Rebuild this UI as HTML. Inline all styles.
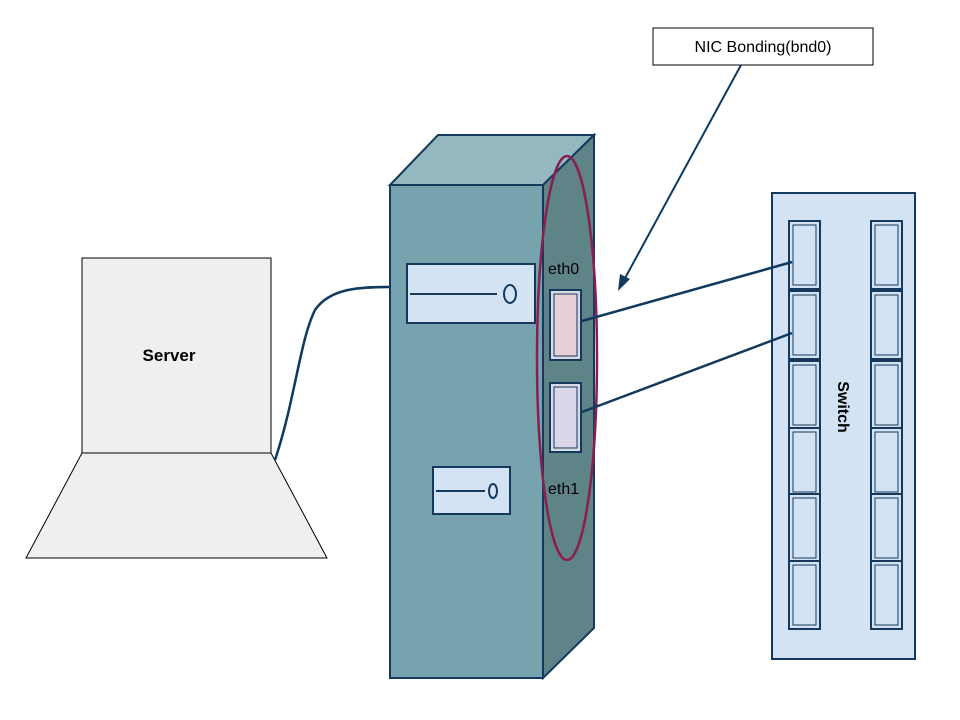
<!DOCTYPE html>
<html><head><style>body{margin:0;background:#fff}svg{display:block}</style></head><body>
<svg width="960" height="720" xmlns="http://www.w3.org/2000/svg" font-family="Liberation Sans, sans-serif">
<rect x="82" y="258" width="189" height="195" fill="#efefef" stroke="#000" stroke-width="1"/>
<polygon points="82,453 271,453 327,558 26,558" fill="#efefef" stroke="#000"/>
<text x="169" y="361" font-size="17" font-weight="bold" text-anchor="middle">Server</text>
<path d="M275,460 C295,400 300,340 315,310 C330,288 360,287 390,287" fill="none" stroke="#0f3a5e" stroke-width="2.5"/>
<polygon points="390,185 438,135 594,135 543,185" fill="#94b8c0" stroke="#15395c" stroke-width="2"/>
<polygon points="543,185 594,135 594,628 543,678" fill="#5e8488" stroke="#15395c" stroke-width="2"/>
<rect x="390" y="185" width="153" height="493" fill="#77a3ae" stroke="#15395c" stroke-width="2"/>
<rect x="407" y="264" width="128" height="59" fill="#d3e3f3" stroke="#15395c" stroke-width="2"/>
<line x1="410" y1="294" x2="497" y2="294" stroke="#15395c" stroke-width="2"/>
<ellipse cx="510" cy="294" rx="6" ry="9" fill="none" stroke="#15395c" stroke-width="2"/>
<rect x="433" y="467" width="77" height="47" fill="#d3e3f3" stroke="#15395c" stroke-width="2"/>
<line x1="436" y1="491" x2="485" y2="491" stroke="#15395c" stroke-width="2"/>
<ellipse cx="493" cy="491" rx="4" ry="7" fill="none" stroke="#15395c" stroke-width="2"/>
<rect x="550" y="290" width="31" height="70" fill="#d6dbe5" stroke="#15395c" stroke-width="2"/>
<rect x="554" y="294" width="23" height="62" fill="#e8cfd8" stroke="#15395c" stroke-width="1"/>
<rect x="550" y="383" width="31" height="69" fill="#d6dbe5" stroke="#15395c" stroke-width="2"/>
<rect x="554" y="387" width="23" height="61" fill="#dcd6ea" stroke="#15395c" stroke-width="1"/>
<text x="548" y="274" font-size="16">eth0</text>
<text x="548" y="494" font-size="16">eth1</text>
<ellipse cx="567" cy="358" rx="30" ry="202" fill="none" stroke="#8a1f4e" stroke-width="2.5"/>
<rect x="772" y="193" width="143" height="466" fill="#d3e3f3" stroke="#15395c" stroke-width="2"/>
<g stroke="#15395c" fill="#d3e3f3">
<g id="p"><rect x="789" y="221" width="31" height="68" stroke-width="2"/><rect x="793" y="225" width="23" height="60" stroke-width="1"/></g>
<use href="#p" y="70"/><use href="#p" y="140"/><use href="#p" y="207"/><use href="#p" y="273"/><use href="#p" y="340"/>
<use href="#p" x="82"/><use href="#p" x="82" y="70"/><use href="#p" x="82" y="140"/><use href="#p" x="82" y="207"/><use href="#p" x="82" y="273"/><use href="#p" x="82" y="340"/>
</g>
<text transform="translate(838,407) rotate(90)" font-size="16" font-weight="bold" text-anchor="middle">Switch</text>
<line x1="582" y1="321" x2="792" y2="262" stroke="#0f3a5e" stroke-width="2.5"/>
<line x1="582" y1="412" x2="792" y2="333" stroke="#0f3a5e" stroke-width="2.5"/>
<rect x="653" y="28" width="220" height="37" fill="#fff" stroke="#000"/>
<text x="763" y="52" font-size="16" text-anchor="middle">NIC Bonding(bnd0)</text>
<line x1="741" y1="65" x2="624" y2="280" stroke="#0f3a5e" stroke-width="2"/>
<polygon points="618,291 620,274 630,279" fill="#0f3a5e"/>
</svg>
</body></html>
